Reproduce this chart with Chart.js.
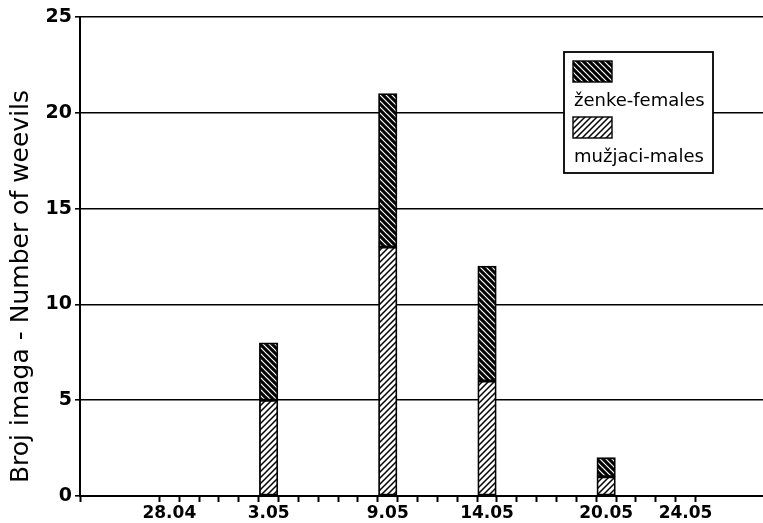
<!DOCTYPE html>
<html>
<head>
<meta charset="utf-8">
<script src="https://cdn.jsdelivr.net/npm/chart.js@4.4.1/dist/chart.umd.min.js"></script>
<style>
  html, body { margin: 0; padding: 0; background: #fff; }
  #wrap { width: 763px; height: 523px; }
</style>
</head>
<body>
<div id="wrap"><canvas id="c" width="763" height="523"></canvas></div>
<script>
// ---- data ----
const sampleDates = ['3.05', '9.05', '14.05', '20.05'];
const males = [5, 13, 6, 1];
const females = [3, 8, 6, 1];
const tickLabels = ['28.04', '3.05', '9.05', '14.05', '20.05', '24.05'];
const yTicks = [0, 5, 10, 15, 20, 25];
const seriesFemales = 'ženke-females';
const seriesMales = 'mužjaci-males';
const yAxisTitle = 'Broj imaga - Number of weevils';

// ---- helpers ----
function dayNum(s) {
  const [d, m] = s.split('.').map(Number);
  return Date.UTC(2000, m - 1, d) / 86400000;
}
const origin = dayNum(tickLabels[0]);
const dayOf = s => dayNum(s) - origin;
const labelDays = tickLabels.map(dayOf);

// day boundaries (tick marks) between first and last labelled day
const xMin = -4.5, xMax = 29.9;
const xTickVals = [xMin];
for (let v = labelDays[0] - 0.5; v <= labelDays[labelDays.length - 1] + 0.5; v += 1) xTickVals.push(v);
labelDays.forEach(v => xTickVals.push(v));
xTickVals.sort((a, b) => a - b);

function makePattern(dir, w) {
  const p = 6;
  const c = document.createElement('canvas');
  c.width = p; c.height = p;
  const g = c.getContext('2d');
  g.fillStyle = '#fff'; g.fillRect(0, 0, p, p);
  g.strokeStyle = '#000'; g.lineWidth = w; g.beginPath();
  for (const o of [-p, 0, p]) {
    if (dir === 'back') { g.moveTo(o - 1, -1); g.lineTo(o + p + 1, p + 1); }
    else { g.moveTo(o + p + 1, -1); g.lineTo(o - 1, p + 1); }
  }
  g.stroke();
  return g.createPattern(c, 'repeat');
}
const femalePat = makePattern('back', 3.1);
const malePat = makePattern('fwd', 1.5);

const titlePlugin = {
  id: 'yTitle',
  afterDraw(chart) {
    const ctx = chart.ctx;
    ctx.save();
    ctx.translate(27.5, 286.5);
    ctx.rotate(-Math.PI / 2);
    ctx.font = '25px "DejaVu Sans"';
    ctx.fillStyle = '#000';
    ctx.textAlign = 'center';
    ctx.textBaseline = 'alphabetic';
    ctx.fillText(yAxisTitle, 0, 0);
    ctx.restore();
  }
};

const legendPlugin = {
  id: 'boxLegend',
  afterDraw(chart) {
    const ctx = chart.ctx, a = chart.chartArea;
    const x = a.left + 484, y = a.top + 35;
    ctx.save();
    ctx.fillStyle = '#fff';
    ctx.fillRect(x, y, 149, 121);
    ctx.strokeStyle = '#000';
    ctx.lineWidth = 1.8;
    ctx.strokeRect(x, y, 149, 121);
    const items = [chart.data.datasets[1], chart.data.datasets[0]];
    items.forEach((ds, i) => {
      const sy = y + 9 + i * 56;
      ctx.fillStyle = ds.backgroundColor;
      ctx.fillRect(x + 9, sy, 39, 21);
      ctx.lineWidth = 1.4;
      ctx.strokeRect(x + 9, sy, 39, 21);
      ctx.fillStyle = '#000';
      ctx.font = '18px "DejaVu Sans"';
      ctx.textBaseline = 'alphabetic';
      ctx.textAlign = 'left';
      ctx.fillText(ds.label, x + 10, sy + 45);
    });
    ctx.restore();
  }
};

new Chart(document.getElementById('c'), {
  type: 'bar',
  data: {
    datasets: [
      {
        label: seriesMales,
        data: sampleDates.map((d, i) => ({ x: dayOf(d), y: males[i] })),
        backgroundColor: malePat,
        borderColor: '#000',
        borderWidth: 1.8,
        borderSkipped: false,
        barThickness: 18.5
      },
      {
        label: seriesFemales,
        data: sampleDates.map((d, i) => ({ x: dayOf(d), y: females[i] })),
        backgroundColor: femalePat,
        borderColor: '#000',
        borderWidth: 1.8,
        borderSkipped: false,
        barThickness: 18.5
      }
    ]
  },
  options: {
    responsive: false,
    animation: false,
    layout: { padding: { top: 17, left: 0, right: 0, bottom: 0 } },
    plugins: { legend: { display: false }, tooltip: { enabled: false } },
    scales: {
      x: {
        type: 'linear',
        stacked: true,
        min: xMin,
        max: xMax,
        offset: false,
        afterBuildTicks: s => { s.ticks = xTickVals.map(v => ({ value: v })); },
        afterFit: s => { s.height = 27; },
        ticks: {
          autoSkip: false,
          maxRotation: 0,
          minRotation: 0,
          padding: 1,
          color: '#000',
          font: { family: 'DejaVu Sans', size: 17, weight: 'bold' },
          callback: v => { const i = labelDays.indexOf(v); return i >= 0 ? tickLabels[i] : ''; }
        },
        grid: {
          offset: false,
          drawOnChartArea: false,
          drawTicks: true,
          tickLength: 6,
          tickWidth: 2,
          tickColor: c => (c.tick && Number.isInteger(c.tick.value)) ? 'rgba(0,0,0,0)' : '#000'
        },
        border: { display: true, color: '#000', width: 2 }
      },
      y: {
        stacked: true,
        min: 0,
        max: 25,
        afterBuildTicks: s => { s.ticks = yTicks.map(v => ({ value: v })); },
        afterFit: s => { s.width = 80; },
        ticks: {
          padding: 3,
          color: '#000',
          font: { family: 'DejaVu Sans', size: 19, weight: 'bold' }
        },
        grid: {
          color: '#000',
          lineWidth: 1.6,
          tickLength: 5,
          tickColor: '#000',
          tickWidth: 1.6
        },
        border: { display: true, color: '#000', width: 2 }
      }
    }
  },
  plugins: [titlePlugin, legendPlugin]
});
</script>
</body>
</html>
